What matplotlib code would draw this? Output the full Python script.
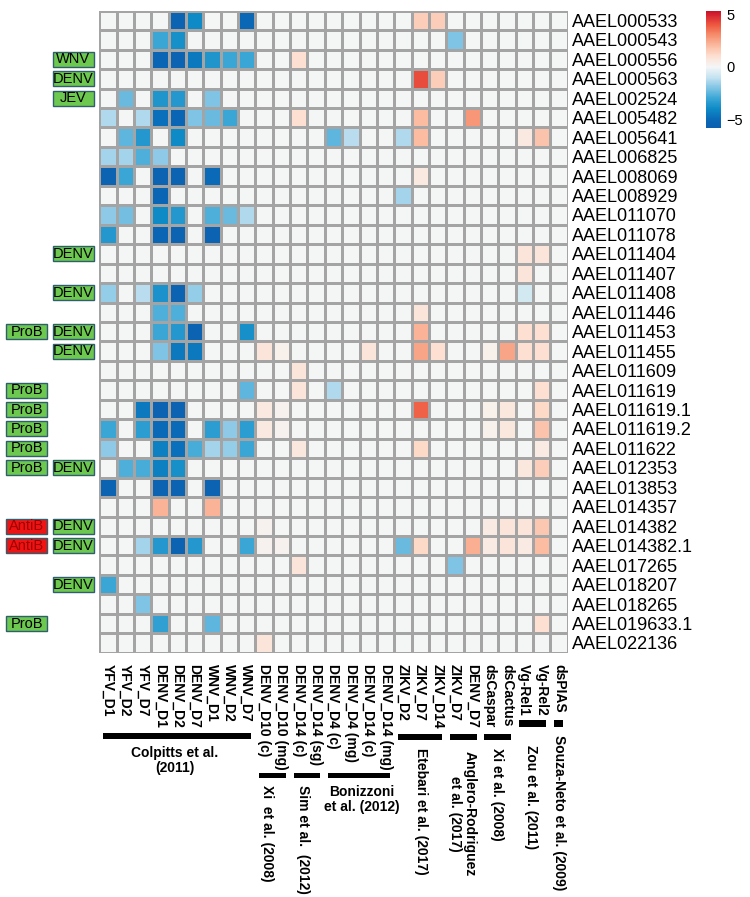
import numpy as np
import matplotlib
matplotlib.use("Agg")
import matplotlib.pyplot as plt
from matplotlib.colors import LinearSegmentedColormap, Normalize
from matplotlib.patches import Rectangle

plt.rcParams['font.family'] = ['Liberation Sans', 'DejaVu Sans']

genes = ["AAEL000533", "AAEL000543", "AAEL000556", "AAEL000563", "AAEL002524",
         "AAEL005482", "AAEL005641", "AAEL006825", "AAEL008069", "AAEL008929",
         "AAEL011070", "AAEL011078", "AAEL011404", "AAEL011407", "AAEL011408",
         "AAEL011446", "AAEL011453", "AAEL011455", "AAEL011609", "AAEL011619",
         "AAEL011619.1", "AAEL011619.2", "AAEL011622", "AAEL012353", "AAEL013853",
         "AAEL014357", "AAEL014382", "AAEL014382.1", "AAEL017265", "AAEL018207",
         "AAEL018265", "AAEL019633.1", "AAEL022136"]

conditions = ["YFV_D1", "YFV_D2", "YFV_D7", "DENV_D1", "DENV_D2", "DENV_D7",
              "WNV_D1", "WNV_D2", "WNV_D7", "DENV_D10 (c)", "DENV_D10 (mg)",
              "DENV_D14 (c)", "DENV_D14 (sg)", "DENV_D4 (c)", "DENV_D4 (mg)",
              "DENV_D14 (c)", "DENV_D14 (mg)", "ZIKV_D2", "ZIKV_D7", "ZIKV_D14",
              "ZIKV_D7", "DENV_D7", "dsCaspar", "dsCactus", "Vg-Rel1", "Vg-Rel2",
              "dsPIAS"]

# log fold-change values (rows = genes, columns = conditions)
values = [
    [0, 0, 0, 0, -5.5, -4.0, 0, 0, -5.2, 0, 0, 0, 0, 0, 0, 0, 0, 0, 1.5, 1.5, 0, 0, 0, 0, 0, 0, 0],
    [0, 0, 0, -3.0, -3.8, 0, 0, 0, 0, 0, 0, 0, 0, 0, 0, 0, 0, 0, 0, 0, -2.0, 0, 0, 0, 0, 0, 0],
    [0, 0, 0, -5.3, -5.5, -4.5, -3.6, -3.0, -3.0, 0, 0, 1.0, 0, 0, 0, 0, 0, 0, 0, 0, 0, 0, 0, 0, 0, 0, 0],
    [0, 0, 0, 0, 0, 0, 0, 0, 0, 0, 0, 0, 0, 0, 0, 0, 0, 0, 4.2, 1.5, 0, 0, 0, 0, 0, 0, 0],
    [0, -2.3, 0, -3.6, -3.5, 0, -2.0, 0, 0, 0, 0, 0, 0, 0, 0, 0, 0, 0, 0, 0, 0, 0, 0, 0, 0, 0, 0],
    [-1.3, 0, -1.3, -4.8, -5.3, -2.0, -2.3, -3.0, 0, 0, 0, 1.0, 0, 0, 0, 0, 0, 0, 2.0, 0, 0, 2.8, 0, 0, 0, 0, 0],
    [0, -2.5, -3.5, 0, -4.0, 0, 0, 0, 0, 0, 0, 0, 0, -2.5, -1.2, 0, 0, -1.3, 2.0, 0, 0, 0, 0, 0, 0.6, 1.8, 0],
    [-1.5, -1.5, -2.7, -1.8, 0, 0, 0, 0, 0, 0, 0, 0, 0, 0, 0, 0, 0, 0, 0, 0, 0, 0, 0, 0, 0, 0, 0],
    [-5.5, -3.0, 0, -5.5, -5.5, 0, -5.0, 0, 0, 0, 0, 0, 0, 0, 0, 0, 0, 0, 0.6, 0, 0, 0, 0, 0, 0, 0, 0],
    [0, 0, 0, -5.3, 0, 0, 0, 0, 0, 0, 0, 0, 0, 0, 0, 0, 0, -1.5, 0, 0, 0, 0, 0, 0, 0, 0, 0],
    [-1.8, -2.2, 0, -4.0, -3.5, 0, -2.7, -2.3, -1.3, 0, 0, 0, 0, 0, 0, 0, 0, 0, 0, 0, 0, 0, 0, 0, 0, 0, 0],
    [-3.5, 0, 0, -5.3, -5.5, 0, -5.5, 0, 0, 0, 0, 0, 0, 0, 0, 0, 0, 0, 0, 0, 0, 0, 0, 0, 0, 0, 0],
    [0, 0, 0, 0, 0, 0, 0, 0, 0, 0, 0, 0, 0, 0, 0, 0, 0, 0, 0, 0, 0, 0, 0, 0, 0.8, 0.8, 0],
    [0, 0, 0, 0, 0, 0, 0, 0, 0, 0, 0, 0, 0, 0, 0, 0, 0, 0, 0, 0, 0, 0, 0, 0, 0.8, 0, 0],
    [-1.7, 0, -1.2, -3.7, -5.5, -1.7, 0, 0, 0, 0, 0, 0, 0, 0, 0, 0, 0, 0, 0, 0, 0, 0, 0, 0, -0.7, 0, 0],
    [0, 0, 0, -2.7, -2.7, 0, 0, 0, 0, 0, 0, 0, 0, 0, 0, 0, 0, 0, 0.8, 0, 0, 0, 0, 0, 0, 0, 0],
    [0, 0, 0, -3.0, -3.5, -5.5, 0, 0, -3.8, 0, 0, 0, 0, 0, 0, 0, 0, 0, 2.2, 0, 0, 0, 0, 0, 1.0, 1.0, 0],
    [0, 0, 0, -2.0, -4.5, -4.5, 0, 0, 0, 0.8, 0.3, 0, 0, 0, 0, 0.8, 0, 0, 2.5, 1.0, 0, 0, 0.3, 2.5, 1.0, 1.0, 0],
    [0, 0, 0, 0, 0, 0, 0, 0, 0, 0, 0, 0.8, 0, 0, 0, 0, 0, 0, 0, 0, 0, 0, 0, 0, 0, 0, 0],
    [0, 0, 0, 0, 0, 0, 0, 0, -2.5, 0, 0, 0.8, 0, -1.3, 0, 0, 0, 0, 0, 0, 0, 0, 0, 0, 0, 1.0, 0],
    [0, 0, -4.5, -5.5, -5.5, 0, 0, 0, 0, 0.6, 0.2, 0, 0, 0, 0, 0, 0, 0, 3.8, 0, 0, 0, 0.3, 0.7, 0, 1.2, 0],
    [-3.0, 0, -3.3, -5.0, -5.0, 0, -3.3, -1.8, -3.3, 0.6, 0.2, 0, 0, 0, 0, 0, 0, 0, 0, 0, 0, 0, 0.3, 0.7, 0, 1.8, 0],
    [-1.8, 0, 0, -4.3, -4.8, -2.8, -1.5, -1.7, -3.0, 0, 0, 0.7, 0, 0, 0, 0, 0, 0, 1.2, 0, 0, 0, 0, 0, 0, 0.5, 0],
    [0, -2.7, -2.8, -4.3, -3.8, 0, 0, 0, 0, 0, 0, 0, 0, 0, 0, 0, 0, 0, 0, 0, 0, 0, 0, 0, 0.7, 1.5, 0],
    [-5.5, 0, 0, -5.5, -5.5, 0, -5.5, 0, 0, 0, 0, 0, 0, 0, 0, 0, 0, 0, 0, 0, 0, 0, 0, 0, 0, 0, 0],
    [0, 0, 0, 2.2, 0, 0, 2.2, 0, 0, 0, 0, 0, 0, 0, 0, 0, 0, 0, 0, 0, 0, 0, 0, 0, 0, 0, 0],
    [0, 0, 0, 0, 0, 0, 0, 0, 0, 0.2, 0, 0, 0, 0, 0, 0, 0, 0, 0, 0, 0, 0, 0.5, 0.8, 0.8, 1.7, 0],
    [0, 0, -1.5, -3.5, -5.5, -3.5, 0, 0, -3.0, 0.2, 0.2, 0, 0, 0, 0, 0, 0, -2.3, 1.2, 0, 0, 2.3, 0.5, 0.8, 0.5, 2.0, 0],
    [0, 0, 0, 0, 0, 0, 0, 0, 0, 0, 0, 0.8, 0, 0, 0, 0, 0, 0, 0, 0, -2.0, 0, 0, 0, 0, 0, 0],
    [-3.0, 0, 0, 0, 0, 0, 0, 0, 0, 0, 0, 0, 0, 0, 0, 0, 0, 0, 0, 0, 0, 0, 0, 0, 0, 0, 0],
    [0, 0, -2.0, 0, 0, 0, 0, 0, 0, 0, 0, 0, 0, 0, 0, 0, 0, 0, 0, 0, 0, 0, 0, 0, 0, 0, 0],
    [0, 0, 0, -3.2, 0, 0, -2.5, 0, 0, 0, 0, 0, 0, 0, 0, 0, 0, 0, 0, 0, 0, 0, 0, 0, 0, 1.0, 0],
    [0, 0, 0, 0, 0, 0, 0, 0, 0, 0.8, 0, 0, 0, 0, 0, 0, 0, 0, 0, 0, 0, 0, 0, 0, 0, 0, 0],
]

# left annotations: (row index, label)
annot_role = {16: "ProB", 19: "ProB", 20: "ProB", 21: "ProB", 22: "ProB", 23: "ProB",
              26: "AntiB", 27: "AntiB", 31: "ProB"}
annot_virus = {2: "WNV", 3: "DENV", 4: "JEV", 12: "DENV", 14: "DENV", 16: "DENV",
               17: "DENV", 23: "DENV", 26: "DENV", 27: "DENV", 29: "DENV"}

# study groups: (label, first col, last col)
groups = [("Colpitts et al.\n(2011)", 0, 8),
          ("Xi  et al. (2008)", 9, 10),
          ("Sim et al.  (2012)", 11, 12),
          ("Bonizzoni\net al. (2012)", 13, 16),
          ("Etebari et al. (2017)", 17, 19),
          ("Anglero-Rodriguez\net al. (2017)", 20, 21),
          ("Xi et al. (2008)", 22, 23),
          ("Zou et al. (2011)", 24, 25),
          ("Souza-Neto et al. (2009)", 26, 26)]

data = np.array(values, dtype=float)
nrow, ncol = data.shape

W, H = 750, 897
fig = plt.figure(figsize=(W / 100, H / 100), dpi=100)

gx0, gx1, gy0, gy1 = 99.3, 567.7, 10.7, 652.7
ax = fig.add_axes([gx0 / W, 1 - gy1 / H, (gx1 - gx0) / W, (gy1 - gy0) / H])
cw = (gx1 - gx0) / ncol
rh = (gy1 - gy0) / nrow

def px2x(px):
    return (px - gx0) / cw

def px2y(py):
    return (py - gy0) / rh

vmin, vmax = -5.8, 5.3
nodes = [(-5.8, '#0b5fae'), (-5.0, '#0a6ab8'), (-4.0, '#0e8ac6'), (-3.0, '#3aa6d6'),
         (-2.0, '#80c4e4'), (-1.0, '#c6e3f1'), (0.0, '#f4f6f6'), (1.0, '#fde0d2'),
         (2.0, '#fbbca2'), (3.0, '#f68f6e'), (4.0, '#ee5840'), (5.0, '#d42030'),
         (5.3, '#c8102a')]
cmap = LinearSegmentedColormap.from_list(
    'fc', [((v - vmin) / (vmax - vmin), c) for v, c in nodes])
norm = Normalize(vmin=vmin, vmax=vmax)

mesh = ax.pcolormesh(np.arange(ncol + 1), np.arange(nrow + 1), data, cmap=cmap, norm=norm,
                     edgecolors='#a4a4a4', linewidth=0.9)
ax.set_xlim(0, ncol)
ax.set_ylim(nrow, 0)
for s in ax.spines.values():
    s.set_visible(False)

ax.yaxis.tick_right()
ax.set_yticks(np.arange(nrow) + 0.5)
ax.set_yticklabels(genes, fontsize=13)
ax.set_xticks(np.arange(ncol) + 0.5)
ax.set_xticklabels(conditions, rotation=-90, fontsize=10, fontweight='bold', va='top')
ax.tick_params(axis='both', length=0)
ax.tick_params(axis='y', pad=3)
ax.tick_params(axis='x', pad=8)

# left annotation boxes
def draw_box(x0px, x1px, r, label, fc, tc):
    bh = 15 / rh
    yc = r + 0.5
    ax.add_patch(Rectangle((px2x(x0px), yc - bh / 2), (x1px - x0px) / cw, bh,
                           facecolor=fc, edgecolor='#2f5e6e', linewidth=1.0, clip_on=False))
    ax.text(px2x((x0px + x1px) / 2), yc, label, ha='center', va='center', fontsize=10.5,
            color=tc, clip_on=False)

for r, lab in annot_role.items():
    if lab == "AntiB":
        draw_box(6, 47, r, lab, '#ee1414', '#a00000')
    else:
        draw_box(6, 47, r, lab, '#6cc84e', '#000000')
for r, lab in annot_virus.items():
    draw_box(53, 94, r, lab, '#6cc84e', '#000000')

# group bars and labels
bar_y = {0: (733, 739), 1: (773, 778), 2: (773, 778), 3: (773, 778), 4: (734, 740),
         5: (734, 740), 6: (734, 740), 7: (720, 727), 8: (720, 727)}
for gi, (lab, c0, c1) in enumerate(groups):
    y0p, y1p = bar_y[gi]
    xa, xb = c0 + 0.2, c1 + 1 - 0.25
    ax.add_patch(Rectangle((xa, px2y(y0p)), xb - xa, px2y(y1p) - px2y(y0p),
                           facecolor='black', edgecolor='none', clip_on=False))

kw = dict(fontsize=10, fontweight='bold', clip_on=False)
ax.text(px2x(175), px2y(746), groups[0][0], ha='center', va='top', linespacing=1.1, **kw)
ax.text(px2x(266.5), px2y(785), groups[1][0], rotation=-90, ha='center', va='top', **kw)
ax.text(px2x(303), px2y(785), groups[2][0], rotation=-90, ha='center', va='top', **kw)
ax.text(px2x(361.5), px2y(785), groups[3][0], ha='center', va='top', linespacing=1.1, **kw)
ax.text(px2x(421.5), px2y(748), groups[4][0], rotation=-90, ha='center', va='top', **kw)
ax.text(px2x(462.5), px2y(814), groups[5][0], rotation=-90, ha='center', va='center',
        linespacing=1.05, **kw)
ax.text(px2x(496.5), px2y(748), groups[6][0], rotation=-90, ha='center', va='top', **kw)
ax.text(px2x(531.5), px2y(745), groups[7][0], rotation=-90, ha='center', va='top', **kw)
ax.text(px2x(559), px2y(735), groups[8][0], rotation=-90, ha='center', va='top', **kw)

# colour legend
cax = fig.add_axes([706 / W, 1 - 128 / H, 15 / W, 117 / H])
cb = fig.colorbar(mesh, cax=cax, ticks=[-5, 0, 5])
cb.outline.set_visible(False)
cb.ax.set_yticklabels(['\u22125', '0', '5'], fontsize=10.5)
cb.ax.tick_params(length=0, pad=4)

fig.savefig('out.png', dpi=100)
